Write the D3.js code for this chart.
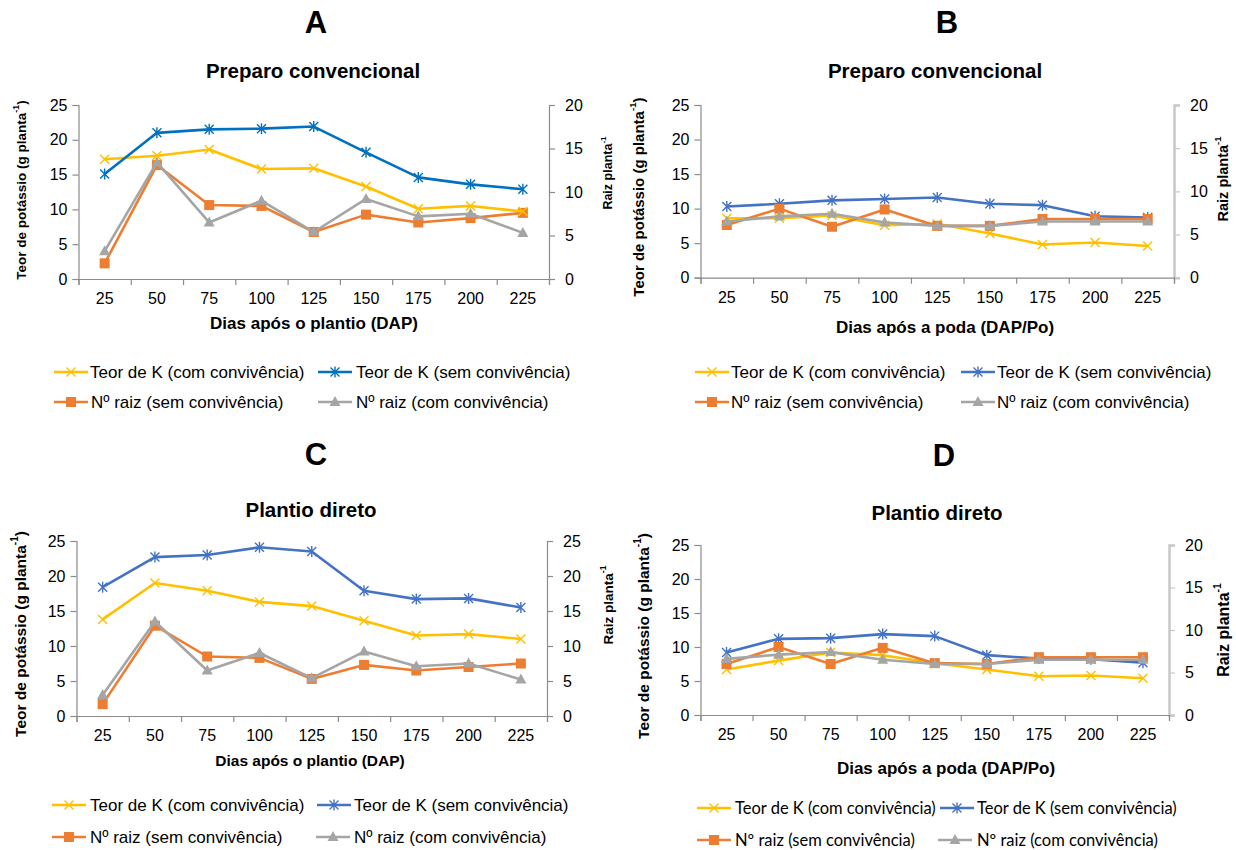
<!DOCTYPE html>
<html>
<head>
<meta charset="utf-8">
<script src="https://cdn.jsdelivr.net/npm/d3@7"></script>
<style>
  html, body { margin: 0; padding: 0; background: #fff; }
  svg { display: block; font-family: "Liberation Sans", Arial, sans-serif; }
</style>
</head>
<body>
<svg id="fig" width="1236" height="850"></svg>
<script>
// Days of sampling (categories on the x axis)
const days = [25, 50, 75, 100, 125, 150, 175, 200, 225];

// Tick values
const kTicks = [0, 5, 10, 15, 20, 25];
const raizTicks20 = [0, 5, 10, 15, 20];
const raizTicks25 = [0, 5, 10, 15, 20, 25];

// A - Preparo convencional (dias após o plantio)
const aTeorCom = [17.2, 17.7, 18.6, 15.8, 15.9, 13.3, 10.1, 10.5, 9.7];
const aTeorSem = [15.1, 21.0, 21.5, 21.6, 21.9, 18.2, 14.6, 13.6, 12.9];
const aRaizSem = [1.8, 13.1, 8.5, 8.4, 5.4, 7.4, 6.5, 7.0, 7.6];
const aRaizCom = [3.2, 13.4, 6.5, 9.0, 5.4, 9.2, 7.2, 7.5, 5.3];

// B - Preparo convencional (dias após a poda)
const bTeorCom = [8.6, 8.6, 9.0, 7.6, 7.8, 6.4, 4.8, 5.1, 4.6];
const bTeorSem = [10.3, 10.7, 11.2, 11.4, 11.6, 10.7, 10.5, 8.9, 8.7];
const bRaizSem = [6.1, 8.0, 5.9, 7.9, 6.0, 6.0, 6.8, 6.8, 6.8];
const bRaizCom = [6.5, 7.1, 7.4, 6.4, 6.0, 6.0, 6.5, 6.5, 6.5];

// C - Plantio direto (dias após o plantio)
const cTeorCom = [13.8, 19.0, 17.9, 16.3, 15.7, 13.6, 11.5, 11.7, 11.0];
const cTeorSem = [18.4, 22.7, 23.0, 24.1, 23.5, 17.9, 16.7, 16.8, 15.5];
const cRaizSem = [1.7, 12.9, 8.5, 8.3, 5.3, 7.3, 6.5, 7.0, 7.5];
const cRaizCom = [3.0, 13.5, 6.5, 9.0, 5.4, 9.2, 7.1, 7.5, 5.2];

// D - Plantio direto (dias após a poda)
const dTeorCom = [6.7, 8.0, 9.2, 8.8, 7.6, 6.7, 5.7, 5.8, 5.4];
const dTeorSem = [9.2, 11.2, 11.3, 11.9, 11.6, 8.8, 8.3, 8.2, 7.7];
const dRaizSem = [6.0, 8.0, 6.0, 7.9, 6.1, 6.0, 6.8, 6.8, 6.8];
const dRaizCom = [6.6, 7.1, 7.4, 6.5, 6.0, 6.0, 6.5, 6.5, 6.5];

// Legend labels
const legendLabels = [
  "Teor de K (com convivência)", "Teor de K (sem convivência)",
  "Nº raiz (sem convivência)", "Nº raiz (com convivência)"
];

const YELLOW = "#FFC000", ORANGE = "#ED7D31", GRAY = "#A5A5A5";

const svg = d3.select("#fig");

// Marker drawing helpers
function drawMarker(g, type, x, y, color) {
  const s = 4.5;
  if (type === "x" || type === "star") {
    g.append("path")
      .attr("d", `M${x - s},${y - s}L${x + s},${y + s}M${x - s},${y + s}L${x + s},${y - s}` +
        (type === "star" ? `M${x},${y - s - 1}L${x},${y + s + 1}` : ""))
      .attr("stroke", color).attr("stroke-width", 1.4).attr("fill", "none");
  } else if (type === "square") {
    g.append("rect").attr("x", x - 5).attr("y", y - 5).attr("width", 10).attr("height", 10)
      .attr("fill", color);
  } else if (type === "triangle") {
    g.append("path").attr("d", `M${x},${y - 6}L${x + 5.5},${y + 4}L${x - 5.5},${y + 4}Z`)
      .attr("fill", color);
  }
}

function drawPanel(p) {
  const g = svg.append("g");

  const x = d3.scaleBand().domain(days).range([p.x0, p.x1]).padding(0);
  const xEdge = d3.scaleLinear().domain([0, days.length]).range([p.x0, p.x1]);
  const yL = d3.scaleLinear().domain([0, 25]).range([p.yBot, p.yTop]);
  const yR = d3.scaleLinear().domain([0, p.rightMax]).range([p.yBot, p.yTop]);

  // Left axis
  const axL = g.append("g").attr("transform", `translate(${p.x0},0)`)
    .call(d3.axisLeft(yL).tickValues(kTicks).tickSize(6).tickPadding(5).tickFormat(d3.format("d")));
  axL.select(".domain").attr("stroke", p.axisColor).attr("stroke-width", 1.2);
  axL.selectAll(".tick line").attr("stroke", p.axisColor).attr("stroke-width", 1.2);
  axL.selectAll(".tick text").attr("font-size", p.tickSize).attr("fill", "#000")
    .attr("font-family", "Liberation Sans, Arial, sans-serif");

  // Right axis
  const axR = g.append("g").attr("transform", `translate(${p.x1},0)`)
    .call(d3.axisRight(yR).tickValues(p.rightTicks).tickSize(6).tickPadding(p.rightPad).tickFormat(d3.format("d")));
  axR.select(".domain").attr("stroke", p.rightAxisColor).attr("stroke-width", p.rightAxisWidth);
  axR.selectAll(".tick line").attr("stroke", p.rightAxisColor).attr("stroke-width", 1.2);
  axR.selectAll(".tick text").attr("font-size", p.tickSize).attr("fill", "#000")
    .attr("font-family", "Liberation Sans, Arial, sans-serif");

  // Bottom axis: boundary ticks and category labels
  const axB = g.append("g").attr("transform", `translate(0,${p.yBot})`)
    .call(d3.axisBottom(xEdge).tickValues(d3.range(days.length + 1)).tickSize(6).tickFormat(""));
  axB.select(".domain").attr("stroke", p.axisColor).attr("stroke-width", 1.2);
  axB.selectAll(".tick line").attr("stroke", p.axisColor).attr("stroke-width", 1.2);
  const axLab = g.append("g").attr("transform", `translate(0,${p.yBot})`)
    .call(d3.axisBottom(x).tickSize(0).tickPadding(p.xLabPad));
  axLab.select(".domain").remove();
  axLab.selectAll(".tick text").attr("font-size", p.tickSize).attr("fill", "#000")
    .attr("font-family", "Liberation Sans, Arial, sans-serif");

  const cx = d => x(d) + x.bandwidth() / 2;

  // Series
  const series = [
    { vals: p.teorCom, scale: yL, color: YELLOW, marker: "x" },
    { vals: p.teorSem, scale: yL, color: p.blue, marker: "star" },
    { vals: p.raizSem, scale: yR, color: ORANGE, marker: "square" },
    { vals: p.raizCom, scale: yR, color: GRAY, marker: "triangle" }
  ];
  const order = p.drawOrder;
  order.forEach(i => {
    const s = series[i];
    const line = d3.line().x((d, k) => cx(days[k])).y(d => s.scale(d));
    g.append("path").datum(s.vals).attr("d", line)
      .attr("fill", "none").attr("stroke", s.color).attr("stroke-width", 2.6)
      .attr("stroke-linejoin", "round");
    const mg = g.append("g");
    s.vals.forEach((v, k) => drawMarker(mg, s.marker, cx(days[k]), s.scale(v), s.color));
  });

  // Panel letter and title
  g.append("text").attr("x", p.letterX).attr("y", p.letterY).attr("text-anchor", "middle")
    .attr("font-size", 31).attr("font-weight", "bold").text(p.letter);
  g.append("text").attr("x", p.titleX).attr("y", p.titleY).attr("text-anchor", "middle")
    .attr("font-size", 20.5).attr("font-weight", "bold").text(p.title);

  // X axis title
  g.append("text").attr("x", p.xtX).attr("y", p.xtY).attr("text-anchor", "middle")
    .attr("font-size", p.xtSize).attr("font-weight", "bold").text(p.xTitle);

  // Left axis title
  const lt = g.append("text").attr("transform", `translate(${p.ltX},${p.ltY}) rotate(-90)`)
    .attr("text-anchor", "middle").attr("dominant-baseline", "central")
    .attr("font-size", p.ltSize).attr("font-weight", "bold");
  lt.append("tspan").text("Teor de potássio (g planta");
  lt.append("tspan").attr("font-size", p.ltSize * 0.65).attr("dy", -p.ltSize * 0.4).text("-1");
  lt.append("tspan").attr("dy", p.ltSize * 0.4).text(")");

  // Right axis title
  const rt = g.append("text").attr("transform", `translate(${p.rtX},${p.rtY}) rotate(-90)`)
    .attr("text-anchor", "middle").attr("dominant-baseline", "central")
    .attr("font-size", p.rtSize).attr("font-weight", "bold");
  rt.append("tspan").text("Raiz planta");
  rt.append("tspan").attr("font-size", p.rtSize * 0.65).attr("dy", -p.rtSize * 0.4).text("-1");

  // Legend
  const lg = g.append("g").attr("font-family", p.legendFont).attr("font-size", p.legendSize);
  const legendItems = [
    { color: YELLOW, marker: "x" }, { color: p.blue, marker: "star" },
    { color: ORANGE, marker: "square" }, { color: GRAY, marker: "triangle" }
  ];
  legendItems.forEach((it, i) => {
    const row = Math.floor(i / 2);
    const ly = p.legRows[row];
    const sx = p.legSym[i];
    lg.append("line").attr("x1", sx).attr("x2", sx + 34).attr("y1", ly).attr("y2", ly)
      .attr("stroke", it.color).attr("stroke-width", 2.6);
    drawMarker(lg, it.marker, sx + 17, ly, it.color);
    lg.append("text").attr("x", p.legText[i]).attr("y", ly).attr("dominant-baseline", "central")
      .attr("fill", "#000").text(legendLabels[i]);
  });
}

const common = { rightPad: 10, xLabPad: 14, tickSize: 16, axisColor: "#8C8C8C" };

drawPanel(Object.assign({}, common, {
  letter: "A", title: "Preparo convencional", xTitle: "Dias após o plantio (DAP)",
  x0: 78.5, x1: 549, yTop: 105, yBot: 279, rightMax: 20, rightTicks: raizTicks20,
  rightAxisColor: "#8C8C8C", rightAxisWidth: 1.2,
  teorCom: aTeorCom, teorSem: aTeorSem, raizSem: aRaizSem, raizCom: aRaizCom,
  blue: "#0070C0", drawOrder: [2, 3, 0, 1],
  letterX: 316, letterY: 33, titleX: 313, titleY: 78,
  xtX: 314, xtY: 329, xtSize: 17,
  ltX: 21, ltY: 190, ltSize: 13.5,
  rtX: 608, rtY: 173, rtSize: 12.5,
  legendFont: "Liberation Sans, Arial, sans-serif", legendSize: 17,
  legRows: [372, 402], legSym: [54, 318, 54, 318], legText: [90, 356, 91, 356]
}));

drawPanel(Object.assign({}, common, {
  letter: "B", title: "Preparo convencional", xTitle: "Dias após a poda (DAP/Po)",
  x0: 700.5, x1: 1174, yTop: 105, yBot: 277.7, rightMax: 20, rightTicks: raizTicks20,
  rightAxisColor: "#C8C8C8", rightAxisWidth: 2.5,
  teorCom: bTeorCom, teorSem: bTeorSem, raizSem: bRaizSem, raizCom: bRaizCom,
  blue: "#4472C4", drawOrder: [0, 1, 2, 3],
  letterX: 947, letterY: 33, titleX: 935, titleY: 78,
  xtX: 945, xtY: 333, xtSize: 17,
  ltX: 638, ltY: 197, ltSize: 15,
  rtX: 1223, rtY: 179, rtSize: 14.5,
  legendFont: "Liberation Sans, Arial, sans-serif", legendSize: 17,
  legRows: [372, 402], legSym: [695, 961, 695, 961], legText: [731, 997, 731, 997]
}));

drawPanel(Object.assign({}, common, {
  letter: "C", title: "Plantio direto", xTitle: "Dias após o plantio (DAP)",
  x0: 76.5, x1: 547, yTop: 541, yBot: 716, rightMax: 25, rightTicks: raizTicks25,
  rightAxisColor: "#8C8C8C", rightAxisWidth: 1.2,
  teorCom: cTeorCom, teorSem: cTeorSem, raizSem: cRaizSem, raizCom: cRaizCom,
  blue: "#4472C4", drawOrder: [0, 1, 2, 3],
  letterX: 316, letterY: 465, titleX: 311, titleY: 517,
  xtX: 310, xtY: 766, xtSize: 15.5,
  ltX: 20, ltY: 634, ltSize: 15.5,
  rtX: 608, rtY: 605, rtSize: 13.5,
  legendFont: "Liberation Sans, Arial, sans-serif", legendSize: 17,
  legRows: [805, 837], legSym: [52, 317, 52, 316], legText: [90, 354, 90, 354]
}));

drawPanel(Object.assign({}, common, {
  letter: "D", title: "Plantio direto", xTitle: "Dias após a poda (DAP/Po)",
  x0: 700.5, x1: 1169, yTop: 545, yBot: 715, rightMax: 20, rightTicks: raizTicks20,
  rightAxisColor: "#C8C8C8", rightAxisWidth: 2.5,
  teorCom: dTeorCom, teorSem: dTeorSem, raizSem: dRaizSem, raizCom: dRaizCom,
  blue: "#4472C4", drawOrder: [0, 1, 2, 3],
  letterX: 944, letterY: 466, titleX: 937, titleY: 520,
  xtX: 946, xtY: 774, xtSize: 17,
  ltX: 643, ltY: 636, ltSize: 15.5,
  rtX: 1223, rtY: 630, rtSize: 16,
  legendFont: "Lato, 'Open Sans', sans-serif", legendSize: 16.5,
  legRows: [808, 840], legSym: [697, 940, 697, 938], legText: [735, 977, 735, 977]
}));
</script>
</body>
</html>
